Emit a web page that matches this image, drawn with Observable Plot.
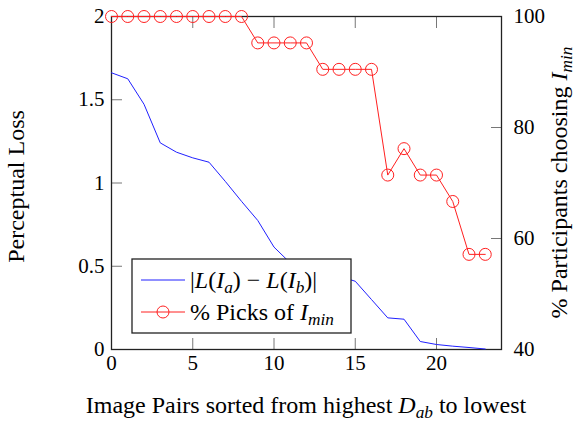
<!DOCTYPE html>
<html><head><meta charset="utf-8">
<script src="https://cdn.jsdelivr.net/npm/d3@7"></script>
<script src="https://cdn.jsdelivr.net/npm/@observablehq/plot@0.6"></script>
<style>body{margin:0;background:#fff} svg{font-family:"Liberation Serif","Times New Roman",serif}</style>
</head><body><div id="chart"></div>
<script>
// ---- data ----
const pairIndex = [0,1,2,3,4,5,6,7,8,9,10,11,12,13,14,15,16,17,18,19,20,21,22,23];
const perceptualLoss = [1.662,1.626,1.473,1.241,1.185,1.151,1.125,1.01,0.89,0.775,0.615,0.52,0.49,0.465,0.44,0.41,0.30,0.19,0.182,0.048,0.030,0.020,0.012,0.003];
const pctPicks = [100,100,100,100,100,100,100,100,100,95.24,95.24,95.24,95.24,90.48,90.48,90.48,90.48,71.43,76.19,71.43,71.43,66.67,57.14,57.14];
const xTicks = [0,5,10,15,20];
const leftTicks = [0,0.5,1,1.5,2];
const rightTicks = [40,60,80,100];
const rightDomain = [40,100];
const leftDomain = [0,2];

// map right-axis percentages onto the left scale
const toLeft = p => (p - rightDomain[0]) / (rightDomain[1] - rightDomain[0]) * (leftDomain[1] - leftDomain[0]) + leftDomain[0];
const fromLeft = v => (v - leftDomain[0]) / (leftDomain[1] - leftDomain[0]) * (rightDomain[1] - rightDomain[0]) + rightDomain[0];

const rows = pairIndex.map((x, i) => ({x, loss: perceptualLoss[i], pct: pctPicks[i]}));

const W = 576, H = 423;
const M = {left: 111, right: 75, top: 16, bottom: 74};
const FS = 21;      // tick labels
const TS = 24;      // axis titles
const LS = 24;      // legend
const BLUE = "#2020ff", RED = "#ff2020";

const chart = Plot.plot({
  width: W, height: H,
  marginLeft: M.left, marginRight: M.right, marginTop: M.top, marginBottom: M.bottom,
  style: {fontFamily: '"Liberation Serif","Times New Roman",serif', fontSize: FS + "px", color: "black", background: "white", overflow: "visible"},
  x: {domain: [0, 24]},
  y: {domain: leftDomain},
  marks: [
    Plot.axisX({anchor: "bottom", ticks: xTicks, tickSize: -11, tickPadding: 17, label: null, stroke: "#777"}),
    Plot.axisX({anchor: "top", ticks: xTicks, tickSize: -11, tickFormat: () => "", label: null, stroke: "#777"}),
    Plot.axisY({anchor: "left", ticks: leftTicks, tickSize: -11, tickPadding: 18, tickFormat: d => String(d), label: null, stroke: "#777"}),
    Plot.axisY({anchor: "right", ticks: rightTicks.map(toLeft), tickSize: -11, tickPadding: 23, tickFormat: d => String(Math.round(fromLeft(d))), label: null, stroke: "#777"}),
    Plot.frame({stroke: "#222", strokeWidth: 1.3}),
    Plot.line(rows, {x: "x", y: "loss", stroke: BLUE, strokeWidth: 1})
  ]
});

const svg = d3.select(chart);

function richText(g, segs, size, anchor) {
  const t = g.append("text").attr("font-size", size).attr("fill", "black").attr("text-anchor", anchor || "start");
  let shifted = false;
  const sh = size * 0.2;
  for (const s of segs) {
    const ts = t.append("tspan").text(s.t);
    if (s.i) ts.attr("font-style", "italic");
    if (s.sub && !shifted) { ts.attr("dy", sh).attr("font-size", size * 0.72); shifted = true; }
    else if (s.sub) { ts.attr("font-size", size * 0.72); }
    else if (shifted) { ts.attr("dy", -sh); shifted = false; }
  }
  return t;
}

// axis titles
const plotCx = (M.left + (W - M.right)) / 2;
const plotCy = (M.top + (H - M.bottom)) / 2;
richText(svg.append("g").attr("transform", `translate(${plotCx},${H - 10})`),
  [{t: "Image Pairs sorted from highest "}, {t: "D", i: true}, {t: "ab", i: true, sub: true}, {t: " to lowest"}], TS, "middle");
richText(svg.append("g").attr("transform", `translate(${24},${plotCy + 4})`).append("g").attr("transform", "rotate(-90)"),
  [{t: "Perceptual Loss"}], TS, "middle");
richText(svg.append("g").attr("transform", `translate(${W - 9},${plotCy}) rotate(-90)`),
  [{t: "% Participants choosing "}, {t: "I", i: true}, {t: "min", i: true, sub: true}], TS, "middle");

// legend (covers the blue line)
const lx = M.left + 21, ly = 259, lw = 219, lh = 74;
const lg = svg.append("g");
lg.append("rect").attr("x", lx).attr("y", ly).attr("width", lw).attr("height", lh)
  .attr("fill", "white").attr("stroke", "#222").attr("stroke-width", 1.3);
const r1 = ly + 21, r2 = ly + 53;
lg.append("line").attr("x1", lx + 9).attr("x2", lx + 53).attr("y1", r1).attr("y2", r1).attr("stroke", BLUE);
lg.append("line").attr("x1", lx + 9).attr("x2", lx + 53).attr("y1", r2).attr("y2", r2).attr("stroke", RED);
lg.append("circle").attr("cx", lx + 31).attr("cy", r2).attr("r", 6).attr("fill", "none").attr("stroke", RED);
richText(lg.append("g").attr("transform", `translate(${lx + 58},${r1 + 8})`),
  [{t: "|"}, {t: "L", i: true}, {t: "("}, {t: "I", i: true}, {t: "a", i: true, sub: true}, {t: ") − "},
   {t: "L", i: true}, {t: "("}, {t: "I", i: true}, {t: "b", i: true, sub: true}, {t: ")|"}], LS);
richText(lg.append("g").attr("transform", `translate(${lx + 58},${r2 + 8})`),
  [{t: "% Picks of "}, {t: "I", i: true}, {t: "min", i: true, sub: true}], LS);

// red series on top, drawn through the same Plot scales
const overlay = Plot.plot({
  width: W, height: H,
  marginLeft: M.left, marginRight: M.right, marginTop: M.top, marginBottom: M.bottom,
  style: {background: "transparent", overflow: "visible"},
  x: {domain: [0, 24], axis: null},
  y: {domain: leftDomain, axis: null},
  marks: [
    Plot.line(rows, {x: "x", y: d => toLeft(d.pct), stroke: RED, strokeWidth: 1}),
    Plot.dot(rows, {x: "x", y: d => toLeft(d.pct), r: 6, stroke: RED, fill: "none", strokeWidth: 1})
  ]
});
d3.select(overlay).selectAll(":scope > g").each(function() { chart.appendChild(this); });

document.getElementById("chart").appendChild(chart);
</script>
</body></html>
